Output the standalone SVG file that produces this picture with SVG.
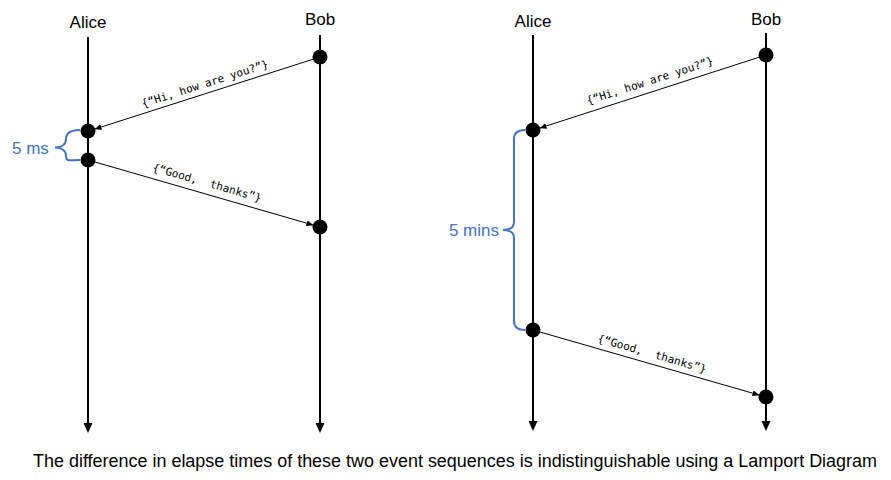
<svg xmlns="http://www.w3.org/2000/svg" width="891" height="480" viewBox="0 0 891 480">
<style>
.lbl{font-family:"Liberation Sans",Arial,sans-serif;font-size:17px;fill:#000;text-anchor:middle}
.blue{font-family:"Liberation Sans",Arial,sans-serif;font-size:17px;fill:#4472C4}
.msg{font-family:"DejaVu Sans Mono","Liberation Mono",monospace;font-size:11px;fill:#000;text-anchor:middle;white-space:pre}
.life{stroke:#000;stroke-width:2;fill:none}
.m{stroke:#000;stroke-width:1;fill:none;marker-end:url(#ah)}
.dot{fill:#000}
.brace{stroke:#4472C4;stroke-width:2;fill:none}
</style>
<defs>
<marker id="ah" markerWidth="7" markerHeight="6" refX="6.5" refY="3" orient="auto" markerUnits="userSpaceOnUse">
<path d="M0,0 L7,3 L0,6 Z" fill="#000"/>
</marker>
</defs>
<rect width="891" height="480" fill="#fff"/>

<g id="alice1">
<text class="lbl" x="88" y="28">Alice</text>
<line class="life" x1="88" y1="37" x2="88" y2="424"/>
<path d="M83.5,423 L92.5,423 L88,433 Z"/>
</g>
<g id="bob1">
<text class="lbl" x="320" y="25">Bob</text>
<line class="life" x1="320" y1="35" x2="320" y2="424"/>
<path d="M315.5,423 L324.5,423 L320,433 Z"/>
</g>
<g id="alice2">
<text class="lbl" x="533" y="27">Alice</text>
<line class="life" x1="533" y1="35" x2="533" y2="422"/>
<path d="M528.5,421 L537.5,421 L533,431 Z"/>
</g>
<g id="bob2">
<text class="lbl" x="766" y="25">Bob</text>
<line class="life" x1="766" y1="33" x2="766" y2="422"/>
<path d="M761.5,421 L770.5,421 L766,431 Z"/>
</g>

<g id="connectors">
<line class="m" x1="320" y1="57" x2="95" y2="129"/>
<line class="m" x1="88" y1="160" x2="313" y2="225"/>
<line class="m" x1="766" y1="55" x2="540" y2="128"/>
<line class="m" x1="533" y1="330" x2="759" y2="395"/>
</g>

<g id="events">
<circle class="dot" cx="320" cy="57" r="7.5"/>
<circle class="dot" cx="88" cy="131" r="7.5"/>
<circle class="dot" cx="88" cy="160" r="7.5"/>
<circle class="dot" cx="320" cy="227" r="7.5"/>
<circle class="dot" cx="766" cy="55" r="7.5"/>
<circle class="dot" cx="533" cy="130" r="7.5"/>
<circle class="dot" cx="533" cy="330" r="7.5"/>
<circle class="dot" cx="766" cy="397" r="7.5"/>
</g>

<g id="msg-labels">
<text class="msg" transform="translate(205,84) rotate(-17.7)" y="3.5">{“Hi, how are you?”}</text>
<text class="msg" transform="translate(207,183) rotate(16.1)" y="3.5">{“Good,  thanks”}</text>
<text class="msg" transform="translate(650,81) rotate(-17.8)" y="3.5">{“Hi, how are you?”}</text>
<text class="msg" transform="translate(652,354) rotate(16.1)" y="3.5">{“Good,  thanks”}</text>
</g>

<g id="brace1">
<path class="brace" d="M80,130 C70,130 66,133 66,139 C66,145 61,147.5 55,147.5 C61,147.5 66,150 66,156 C66,162 70,160 80,160"/>
<text class="blue" x="12" y="154">5 ms</text>
</g>
<g id="brace2">
<path class="brace" d="M525,130 C517,130 514,133 514,139 L514,222 C514,228 509,230 503,230 C509,230 514,232 514,238 L514,321 C514,327 517,330 525,330"/>
<text class="blue" x="499" y="236" text-anchor="end">5 mins</text>
</g>

<text id="caption" x="33" y="467" font-family="Liberation Sans,Arial,sans-serif" font-size="17.5" textLength="844" lengthAdjust="spacingAndGlyphs">The difference in elapse times of these two event sequences is indistinguishable using a Lamport Diagram</text>
</svg>
